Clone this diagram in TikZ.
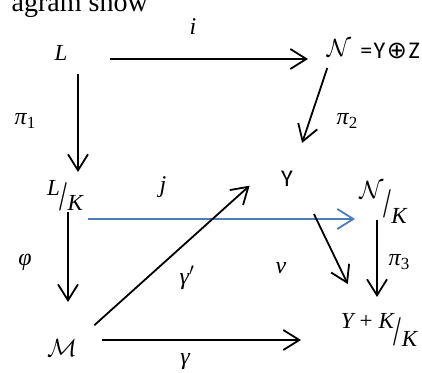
\documentclass[tikz,border=0pt]{standalone}
\usepackage{graphicx}
\usepackage{fontspec}
\setmainfont{Liberation Serif}
\setsansfont{Carlito}
\newfontfamily\symfont{DejaVu Sans}
\usetikzlibrary{arrows.meta}
\definecolor{jblue}{RGB}{74,126,187}
\newcommand{\calN}{{\fontsize{26}{30}\selectfont$\mathcal{N}$}}
\newcommand{\calM}{{\fontsize{29}{32}\selectfont$\mathcal{M}$}}
\newcommand{\tslash}{{\upshape\fontsize{28}{30}\selectfont\scalebox{1}[1.5]{/}}}
\newcommand{\sub}[1]{\raisebox{-4pt}{\upshape\fontsize{17}{19}\selectfont #1}}

\begin{document}
\begin{tikzpicture}[x=1pt, y=-1pt,
    obj/.style={inner sep=0pt, font=\itshape\fontsize{23}{27}\selectfont},
    lbl/.style={inner sep=0pt, font=\itshape\fontsize{24}{28}\selectfont},
    sans/.style={inner sep=0pt, font=\sffamily\fontsize{24}{28}\selectfont},
    arr/.style={line width=1.8pt, -{Straight Barb[length=16pt,width=20pt]}},
]
\useasboundingbox (0,0) rectangle (422,372);
\node[anchor=base east, inner sep=0pt, font=\fontsize{28}{30}\selectfont] (head) at (148,11) {agram show};

% objects
\node[obj] (L) at (61,53) {L};
\node[obj] (N) at (339,48) {\calN};
\node[sans] (sum) at (390,51) {=\kern1.5pt Y\kern1.5pt{\symfont ⊕}\kern1.5pt Z};
\node[sans] (Y) at (287,179) {Y};
\node[obj] (lk) at (65,196) {\raisebox{15pt}{L}\tslash K};
\node[obj] (nk) at (383,202) {\raisebox{19pt}{\calN}\tslash\raisebox{-6pt}{K}};
\node[obj] (M) at (62,348) {\calM};
\node[obj] (ykk) at (379,330) {\raisebox{17pt}{Y\kern6pt{\upshape +}\kern6pt K}\tslash\raisebox{-1pt}{K}};

% maps
\draw[arr, shorten <=49pt, shorten >=31pt] ([yshift=-6pt]L.center) -- ([yshift=-11pt]N.center);
\draw[arr, shorten <=21pt, shorten >=24pt] ([xshift=17pt]L.center) -- ([xshift=13pt]lk.center);
\draw[arr, shorten <=21pt, shorten >=38pt] ([xshift=-5pt]N.center) -- ([xshift=3pt]Y.center);
\draw[arr, draw=jblue, shorten <=23pt, shorten >=28pt] ([yshift=-23pt]lk.center) -- ([yshift=-17pt]nk.center);
\draw[arr, shorten <=34pt, shorten >=10pt] ([xshift=7pt]M.center) -- ([xshift=-30pt]Y.center);
\draw[arr, shorten <=39pt, shorten >=51pt] ([xshift=10pt]Y.center) -- ([xshift=-9pt]ykk.center);
\draw[arr, shorten <=16pt, shorten >=46pt] ([xshift=3pt]lk.center) -- ([xshift=6pt]M.center);
\draw[arr, shorten <=18pt, shorten >=33pt] ([xshift=-6pt]nk.center) -- ([xshift=-2pt]ykk.center);
\draw[arr, shorten <=40pt, shorten >=78pt] ([yshift=8pt]M.center) -- ([yshift=-10pt]ykk.center);

% labels
\node[lbl] (li) at (193,27) {i};
\node[lbl] (lpi1) at (25,121) {π\sub{1}};
\node[lbl] (lpi2) at (347,121) {π\sub{2}};
\node[lbl] (lj) at (163,187) {j};
\node[lbl] (lphi) at (25,262) {φ};
\node[lbl] (lgp) at (187,278) {γ$'$};
\node[lbl] (lnu) at (281,268) {ν};
\node[lbl] (lpi3) at (399,262) {π\sub{3}};
\node[lbl] (lg) at (185,362) {γ};
\end{tikzpicture}
\end{document}
